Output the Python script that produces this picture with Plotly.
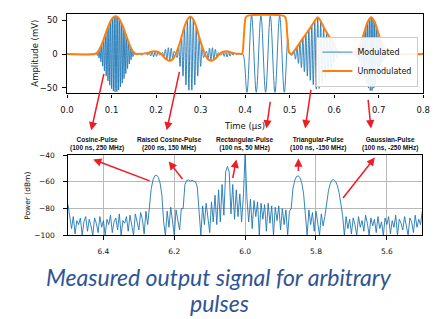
import numpy as np
import plotly.graph_objects as go

# ---------------- top panel: time domain (µs, mV) ----------------
# unmodulated (baseband) envelope
unmod_t = [0, 0.062, 0.068, 0.074, 0.080, 0.086, 0.092, 0.098, 0.104, 0.109, 0.114, 0.120, 0.126, 0.132, 0.138, 0.144, 0.150, 0.156,
           0.167, 0.177, 0.185, 0.195, 0.205, 0.213, 0.221, 0.229, 0.237, 0.243, 0.249, 0.257, 0.265, 0.271, 0.277, 0.283, 0.289,
           0.297, 0.305, 0.311, 0.317, 0.325, 0.333, 0.341, 0.349, 0.359, 0.369, 0.377, 0.387,
           0.393, 0.397, 0.401, 0.405, 0.487, 0.491, 0.495, 0.499, 0.504,
           0.510, 0.520, 0.530, 0.540, 0.550, 0.557, 0.563, 0.569, 0.577, 0.587, 0.597, 0.607, 0.612, 0.620,
           0.643, 0.651, 0.659, 0.667, 0.675, 0.683, 0.691, 0.699, 0.707, 0.715, 0.723, 0.735, 0.800]
unmod_v = [0, 0, 2.2, 8.6, 18.1, 29.2, 40.2, 49.2, 54.9, 56.5, 54.9, 49.2, 40.2, 29.2, 18.1, 8.6, 2.2, 0.2,
           0.3, 1, 2.5, 4.3, 3, -1, -7, -10, -8, -2, 8, 25, 43, 52, 56, 52, 43,
           25, 8, -2, -8, -10, -7, -1, 3, 4.3, 2.5, 1, 0.3,
           0.3, 25, 54, 57, 57, 54, 25, 2, 0.5,
           4.5, 14, 23.7, 33.2, 42.7, 50, 55, 50, 39.3, 28, 16.8, 5.6, 1.2, 0.3,
           1.6, 5.8, 15.6, 31.4, 47.8, 55, 47.8, 31.4, 15.6, 5.8, 1.6, 0.2, 0]

# modulated signal, oscillation extremes read per pulse
lead_t = [0, 0.062]
lead_v = [0, 0]

cos_t0, cos_dt = 0.066, 0.002          # cosine pulse, 250 MHz
cos_v = [1.0, -2.2, 3.9, -6.1, 8.6, -11.5, 14.7, -18.1, 21.7, -25.4, 29.2, -32.9, 36.6, -40.2, 43.5, -46.5,
         49.2, -51.5, 53.5, -54.9, 55.9, -56.4, 56.4, -55.9, 54.9, -53.5, 51.5, -49.2, 46.5, -43.5, 40.2,
         -36.6, 32.9, -29.2, 25.4, -21.7, 18.1, -14.7, 11.5, -8.6, 6.1, -3.9, 2.2, -1.0, 0.3]

gap1_t = [0.158, 0.163, 0.168, 0.173]
gap1_v = [-0.8, 1.2, -1.5, 1.0]

rc_t0, rc_dt = 0.178, 0.0033           # raised cosine pulse, 150 MHz
rc_v = [1.2, -1.8, 2.4, -3, 3.6, -4.3, 4, -3.5, 3.1, -1.6, 0, 2, -4.5, 7, -8.2, 9.4, -9.5, 8.8, -7.6, 4.3,
        -0.3, -5.2, 11.4, -18.4, 25.4, -32.9, 40.3, -46.2, 51, -54, 56,
        -54, 51, -46.2, 40.3, -32.9, 25.4, -18.4, 11.4, -5.2, -0.3, 4.3, -7.6, 8.8, -9.5, 9.4, -8.2, 7,
        -4.5, 2, 0, -1.6, 3.1, -3.5, 4, -4.3, 3.6, -3, 2.4, -1.8, 1.2]

gap2_t = [0.381, 0.386, 0.391]
gap2_v = [-0.8, 0.6, -0.3]

rect_t = [0.395, 0.404, 0.4145, 0.425, 0.4355, 0.446, 0.4565, 0.467, 0.4775, 0.488, 0.496, 0.500]
rect_v = [0, -57, 57, -57, 57, -57, 57, -57, 57, -57, 22, 0]

tri_t0, tri_dt = 0.50639, 0.00333      # triangular pulse, -150 MHz
tri_v = [-1.5, 4.5, -7.6, 10.8, -13.9, 17.1, -20.3, 23.4, -26.6, 29.7, -32.9, 36, -39.2, 42.4, -45.5, 48.7,
         -52, 55, -51.3, 47.5, -43.8, 40, -36.3, 32.6, -28.8, 25.1, -21.4, 17.6, -13.9, 10.1, -6.4, 2.6, -0.5]

gap3_t = [0.618, 0.624, 0.630, 0.636]
gap3_v = [0.8, -1.0, 1.2, -1.0]

gau_t0, gau_dt = 0.643, 0.002          # gaussian pulse, -250 MHz
gau_v = [1.6, -2.3, 3.2, -4.4, 5.8, -7.6, 9.9, -12.5, 15.6, -19, 22.9, -27, 31.4, -35.8, 40.1, -44.2, 47.8,
         -50.8, 53.1, -54.5, 55, -54.5, 53.1, -50.8, 47.8, -44.2, 40.1, -35.8, 31.4, -27, 22.9, -19, 15.6,
         -12.5, 9.9, -7.6, 5.8, -4.4, 3.2, -2.3, 1.6]

tail_t = [0.728, 0.735, 0.742, 0.750, 0.758, 0.766, 0.774, 0.782, 0.790, 0.800]
tail_v = [-1.2, 1.5, -1.3, 1.2, -1.4, 1.1, -1.2, 1.0, -1.1, 0.5]

def grid(t0, dt, vals):
    return list(np.round(t0 + dt * np.arange(len(vals)), 5))

mod_t = (lead_t + grid(cos_t0, cos_dt, cos_v) + gap1_t + grid(rc_t0, rc_dt, rc_v) + gap2_t + rect_t
         + grid(tri_t0, tri_dt, tri_v) + gap3_t + grid(gau_t0, gau_dt, gau_v) + tail_t)
mod_v = lead_v + cos_v + gap1_v + rc_v + gap2_v + rect_v + tri_v + gap3_v + gau_v + tail_v

# ---------------- bottom panel: spectrum (GHz, dBm) ----------------
f_start, f_step = 6.5, -0.005
spec_db = [
    -77, -88,
    -95, -86, -99, -89, -92, -87, -100, -90, -86, -97,
    -88, -93, -100, -87, -91, -98, -86, -94, -89, -100,
    -88, -92, -85, -98, -90, -87, -96, -84, -100, -89,
    -91, -86, -97, -85, -93, -100, -84, -90, -96, -83,
    -88, -99, -82, -92,
    -80, -65, -58.5, -55.5, -55, -56.5, -61, -70, -90,          # cosine pulse
    -100, -82, -94, -79, -90, -100, -81, -88, -96, -80,
    -80, -62, -59, -58.5, -59.5, -59, -59.8, -60, -64, -82,     # raised cosine
    -100, -78, -92, -76, -88, -98, -75, -90,
    -70, -92, -66, -90, -62, -85, -52.5, -48.5, -52.5, -84,     # rectangular
    -62, -88, -66, -86, -69, -90, -71, -38,                     # ... LO at 6.0
    -72, -90, -73, -95, -74, -86, -75, -100, -76, -88, -77, -97, -76,
    -91, -78, -100, -79, -89, -78, -96, -80, -92, -81, -100, -82,
    -80, -65, -59, -56, -55.5, -57, -61, -69, -84,              # triangular
    -100, -81, -92, -83, -97, -82, -90, -100, -84, -93,
    -86, -75, -67, -61.5, -58.8, -58.3, -59.5, -62.5, -68, -76, -85,   # gaussian
    -100, -86, -95, -88, -99, -87, -92, -100, -86, -94,
    -89, -97, -85, -91, -100, -87, -93, -88, -98, -86,
    -95, -90, -100, -87, -92, -86, -99, -89, -94, -85,
    -100, -88, -91, -96, -86, -93, -100, -87, -90, -98,
    -85, -94, -88, -92, -82,
]
freq = list(np.round(f_start + f_step * np.arange(len(spec_db)), 4))

time_ticks = [0.0, 0.1, 0.2, 0.3, 0.4, 0.5, 0.6, 0.7, 0.8]
amp_ticks = [-50, 0, 50]
freq_ticks = [6.4, 6.2, 6.0, 5.8, 5.6]
pow_ticks = [-100, -80, -60, -40]

pulse_labels = ["Cosine-Pulse<br>(100 ns, 250 MHz)", "Raised Cosine-Pulse<br>(200 ns, 150 MHz)",
                "Rectangular-Pulse<br>(100 ns, 50 MHz)", "Triangular-Pulse<br>(100 ns, -150 MHz)",
                "Gaussian-Pulse<br>(100 ns, -250 MHz)"]

W, H = 438, 319
def px(x): return x / W
def py(y): return 1 - y / H

fig = go.Figure()
fig.add_trace(go.Scatter(x=mod_t, y=mod_v, mode="lines", name="Modulated",
                         line=dict(color="#1f77b4", width=0.9, shape="spline", smoothing=1.0)))
fig.add_trace(go.Scatter(x=unmod_t, y=unmod_v, mode="lines", name="Unmodulated",
                         line=dict(color="#ff7f0e", width=2, shape="spline", smoothing=0.8)))
fig.add_trace(go.Scatter(x=freq, y=spec_db, mode="lines", xaxis="x2", yaxis="y2", showlegend=False,
                         line=dict(color="#1f77b4", width=0.9)))

axis_common = dict(showline=True, mirror=True, linecolor="black", linewidth=1.2, ticks="outside",
                   ticklen=3.5, tickwidth=1, tickcolor="black", zeroline=False)

fig.update_layout(
    width=W, height=H, autosize=False,
    margin=dict(l=0, r=0, t=0, b=0),
    paper_bgcolor="white", plot_bgcolor="white",
    font=dict(family="DejaVu Sans", size=8.5, color="#111"),
    xaxis=dict(domain=[px(62), px(430)], range=[0, 0.8], tickvals=time_ticks,
               ticktext=[f"{v:.1f}" for v in time_ticks], showgrid=False, anchor="y",
               ticklabelstandoff=5, **axis_common),
    yaxis=dict(domain=[py(92), py(10)], range=[-58.7, 60.1], tickvals=amp_ticks,
               ticktext=["\u221250", "0", "50"], showgrid=False, anchor="x",
               ticklabelstandoff=3, **axis_common),
    xaxis2=dict(domain=[px(63), px(429)], range=[6.5, 5.5], tickvals=freq_ticks,
                ticktext=[f"{v:.1f}" for v in freq_ticks], showgrid=True, gridcolor="#b8b8b8",
                gridwidth=1.3, anchor="y2", ticklabelstandoff=5, tickfont=dict(size=7.5), **axis_common),
    yaxis2=dict(domain=[py(238), py(155.5)], range=[-100, -40], tickvals=pow_ticks,
                ticktext=["\u2212100", "\u221280", "\u221260", "\u221240"], showgrid=True,
                gridcolor="#b8b8b8", gridwidth=1.3, anchor="x2", ticklabelstandoff=7,
                tickfont=dict(size=7.5), **axis_common),
    legend=dict(x=px(425), y=py(85), xanchor="right", yanchor="bottom", bgcolor="rgba(255,255,255,0.9)",
                bordercolor="#cccccc", borderwidth=1, font=dict(size=8), itemwidth=30,
                tracegroupgap=0),
    showlegend=True,
)

ann = []
def label(x, y, text, size, family=None, color="#111", angle=0):
    f = dict(size=size, color=color)
    if family:
        f["family"] = family
    ann.append(dict(x=px(x), y=py(y), text=text, textangle=angle, showarrow=False, font=f,
                    xref="paper", yref="paper", xanchor="center", yanchor="middle"))

# axis titles
label(28, 51, "Amplitude (mV)", 8.5, angle=-90)
label(245, 126, "Time (\u00b5s)", 8.5)
label(21, 197, "Power (dBm)", 7.5, angle=-90)

# pulse labels
label_x = [93, 168, 245, 321, 396]
for lx, txt in zip(label_x, pulse_labels):
    label(lx, 144.5, "<b>" + txt + "</b>", 6.5, family="Liberation Sans")

# red arrows: (tail_x, tail_y, head_x, head_y) in pixels
arrows = [(100, 72, 87, 130), (178, 70, 165, 130), (272, 100, 268, 128), (314, 88, 308, 128),
          (373, 98, 376, 128),
          (147, 182, 89, 160), (182, 181, 167, 162), (233, 180, 237, 160), (301, 173, 301, 159),
          (347, 200, 380, 158)]
for tx, ty, hx, hy in arrows:
    ann.append(dict(x=px(hx), y=py(hy), xref="paper", yref="paper", ax=tx - hx, ay=ty - hy,
                    axref="pixel", ayref="pixel", text="", showarrow=True, arrowhead=2,
                    arrowsize=1.1, arrowwidth=1.5, arrowcolor="#ee1c25", standoff=0))

# caption
label(219, 281, "<i>Measured output signal for arbitrary</i>", 23, family="Lato", color="#2f5496")
label(219, 308, "<i>pulses</i>", 23, family="Lato", color="#2f5496")

fig.update_layout(annotations=ann)
html = fig.to_html(config={"displayModeBar": False}, full_html=True)
html = html.replace("<head>", "<head><style>html,body{margin:0;padding:0;overflow:hidden;}</style>", 1)
with open("out.html", "w", encoding="utf-8") as fh:
    fh.write(html)
